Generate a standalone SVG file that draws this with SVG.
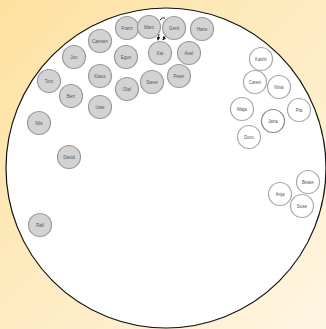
<svg xmlns="http://www.w3.org/2000/svg" width="326" height="329" viewBox="0 0 326 329">
<defs>
<linearGradient id="bg" x1="0" y1="0" x2="1" y2="1">
<stop offset="0" stop-color="#fde1a0"/>
<stop offset="1" stop-color="#fff5e3"/>
</linearGradient>
<marker id="ah" viewBox="0 0 6 6" refX="5" refY="3" markerWidth="4" markerHeight="4" orient="auto">
<path d="M0,0 L6,3 L0,6 z" fill="#222"/>
</marker>
</defs>
<style>
.m circle{fill:#d3d3d3;stroke:#9a9a9a;stroke-width:1.2}
.f circle{fill:#fff;stroke:#a8a8a8;stroke-width:1.2}
text{font-family:"Liberation Sans",Arial,sans-serif;font-size:4.5px;fill:#555;text-anchor:middle;dominant-baseline:central}
.c path{fill:none;stroke:#222;stroke-width:1}
</style>
<rect width="326" height="329" fill="url(#bg)"/>
<circle cx="166" cy="168" r="160" fill="#fff" stroke="#111" stroke-width="1.2"/>
<g class="c">
<path d="M160,20 Q162,17 165,18"/>
<path d="M159,34 L158,40" marker-end="url(#ah)"/>
<path d="M166,35 L163,40" marker-end="url(#ah)"/>
</g>
<g class="m">
<g id="Franz"><circle cx="127" cy="28" r="11.5"/><text x="127" y="28">Franz</text></g>
<g id="Marc"><circle cx="149" cy="27" r="11.5"/><text x="149" y="27">Marc</text></g>
<g id="Gerd"><circle cx="174" cy="28" r="11.5"/><text x="174" y="28">Gerd</text></g>
<g id="Hans"><circle cx="202" cy="29" r="11.5"/><text x="202" y="29">Hans</text></g>
<g id="Carsten"><circle cx="100" cy="41" r="11.5"/><text x="100" y="41">Carsten</text></g>
<g id="Jon"><circle cx="74" cy="57" r="11.5"/><text x="74" y="57">Jon</text></g>
<g id="Egon"><circle cx="126" cy="57" r="11.5"/><text x="126" y="57">Egon</text></g>
<g id="Kai"><circle cx="160" cy="53" r="11.5"/><text x="160" y="53">Kai</text></g>
<g id="Axel"><circle cx="189" cy="53" r="11.5"/><text x="189" y="53">Axel</text></g>
<g id="Tom"><circle cx="49" cy="81" r="11.5"/><text x="49" y="81">Tom</text></g>
<g id="Klaus"><circle cx="100" cy="76" r="11.5"/><text x="100" y="76">Klaus</text></g>
<g id="Steve"><circle cx="152" cy="82" r="11.5"/><text x="152" y="82">Steve</text></g>
<g id="Peter"><circle cx="179" cy="76" r="11.5"/><text x="179" y="76">Peter</text></g>
<g id="Olaf"><circle cx="127" cy="89" r="11.5"/><text x="127" y="89">Olaf</text></g>
<g id="Bert"><circle cx="71" cy="96" r="11.5"/><text x="71" y="96">Bert</text></g>
<g id="Uwe"><circle cx="100" cy="107" r="11.5"/><text x="100" y="107">Uwe</text></g>
<g id="Nils"><circle cx="39" cy="123" r="11.5"/><text x="39" y="123">Nils</text></g>
<g id="David"><circle cx="69" cy="157" r="11.5"/><text x="69" y="157">David</text></g>
<g id="Ralf"><circle cx="40" cy="225" r="11.5"/><text x="40" y="225">Ralf</text></g>
</g>
<g class="f">
<g id="Katrin"><circle cx="261" cy="59" r="11.5"/><text x="261" y="59">Katrin</text></g>
<g id="Caren"><circle cx="255" cy="82" r="11.5"/><text x="255" y="82">Caren</text></g>
<g id="Nina"><circle cx="279" cy="87" r="11.5"/><text x="279" y="87">Nina</text></g>
<g id="Maja"><circle cx="242" cy="109" r="11.5"/><text x="242" y="109">Maja</text></g>
<g id="Pia"><circle cx="299" cy="110" r="11.5"/><text x="299" y="110">Pia</text></g>
<g id="Jana"><circle cx="273" cy="121" r="11.5" style="stroke:#888"/><text x="273" y="121">Jana</text></g>
<g id="Doro"><circle cx="249" cy="137" r="11.5"/><text x="249" y="137">Doro</text></g>
<g id="Beate"><circle cx="308" cy="182" r="11.5"/><text x="308" y="182">Beate</text></g>
<g id="Anja"><circle cx="280" cy="194" r="11.5"/><text x="280" y="194">Anja</text></g>
<g id="Suse"><circle cx="302" cy="206" r="11.5"/><text x="302" y="206">Suse</text></g>
</g>
</svg>
